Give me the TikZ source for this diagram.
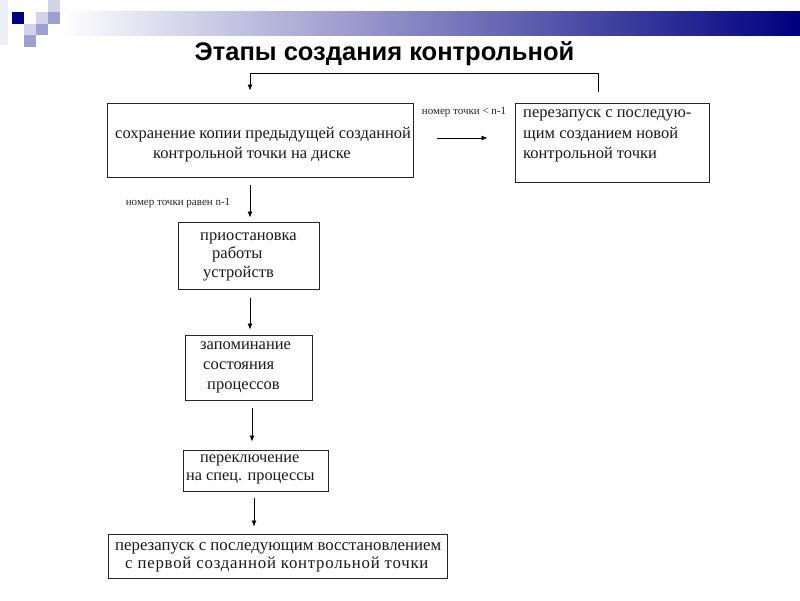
\documentclass[tikz,border=0pt]{standalone}
\usepackage{fontspec}
\setmainfont{Liberation Serif}
\newfontfamily\titlefont{Liberation Sans}
\usetikzlibrary{arrows.meta}
\definecolor{navyc}{HTML}{000080}
\definecolor{lightsq}{HTML}{D2D2EA}
\definecolor{medsq}{HTML}{A0A0D0}
\definecolor{faintsq}{HTML}{EEEEF6}
\tikzset{
  box/.style={draw=black!85, line width=0.9pt, rectangle, inner sep=0pt},
  boxtext/.style={inner sep=0pt, align=left, anchor=west, text=black!90,
    font=\fontsize{16.5}{18.5}\selectfont},
  smalltext/.style={inner sep=0pt, text=black!85, font=\fontsize{11}{13}\selectfont},
  arr/.style={-{Latex[length=6pt,width=5pt]}, line width=0.8pt},
  conn/.style={line width=0.8pt}
}
\begin{document}
\begin{tikzpicture}[x=1pt,y=-1pt]
\useasboundingbox (0,0) rectangle (800,600);
\fill[white] (0,0) rectangle (800,600);
% header decoration
\fill[faintsq] (0,0) rectangle (8,45);
\shade[left color=white, right color=navyc] (60,11) rectangle (800,35);
\fill[navyc] (12,12) rectangle (24,24);
\fill[lightsq] (36,12) rectangle (48,24);
\fill[lightsq] (48,0) rectangle (60,12);
\fill[medsq] (48,12) rectangle (60,24);
\fill[lightsq] (24,24) rectangle (36,35);
\fill[medsq] (36,24) rectangle (48,35);
\fill[medsq] (24,35) rectangle (36,47);
% title
\node[inner sep=0pt, anchor=base, font=\titlefont\bfseries\fontsize{25.5}{30}\selectfont] (title) at (384.5,60) {Этапы создания контрольной};
% boxes
\node[box, minimum width=306pt, minimum height=74pt] (b1) at (260,140) {};
\node[box, minimum width=194pt, minimum height=79pt] (b2) at (612,142.5) {};
\node[box, minimum width=141pt, minimum height=67pt] (b3) at (248.5,255.5) {};
\node[box, minimum width=127pt, minimum height=65pt] (b4) at (248.5,367.5) {};
\node[box, minimum width=145pt, minimum height=41pt] (b5) at (255.5,470.5) {};
\node[box, minimum width=339pt, minimum height=44pt] (b6) at (277.5,556) {};
% texts
\node[boxtext, font=\fontsize{16.5}{20}\selectfont] (t1) at (115,145) {сохранение копии предыдущей созданной\\\hspace*{38pt}контрольной точки на диске};
\node[boxtext, font=\fontsize{16.5}{20.5}\selectfont] (t2) at (523,136) {перезапуск с последую-\\щим созданием новой\\контрольной точки};
\node[boxtext] (t3) at (200,256.5) {приостановка\\\hspace*{12pt}работы\\\hspace*{3pt}устройств};
\node[boxtext, font=\fontsize{16.5}{20}\selectfont] (t4) at (200,367) {запоминание\\\hspace*{3pt}состояния\\\hspace*{7pt}процессов};
\node[boxtext, font=\fontsize{16.3}{18}\selectfont] (t5) at (186,469) {\hspace*{14pt}переключение\\на спец. процессы};
\node[boxtext, font=\fontsize{16.8}{18}\selectfont] (t6) at (115,557) {перезапуск с последующим восстановлением\\\hspace*{10pt}{\addfontfeature{LetterSpace=4.5}с первой созданной контрольной точки}};
% labels
\node[smalltext] (l1) at (464,112) {номер точки < n-1};
\node[smalltext] (l2) at (178,203) {номер точки равен n-1};
% connectors
\coordinate (c1) at (598,73);
\coordinate (c2) at (250,73);
\draw[arr, shorten <=11pt, shorten >=12pt] ([xshift=-14pt]b2.north) -- (c1) -- (c2) -- ([xshift=-10pt]b1.north);
\draw[arr, shorten <=24pt, shorten >=27pt] ([yshift=2pt]b1.east) -- ([yshift=2pt]b1.east -| b2.west);
\draw[arr, shorten <=8pt, shorten >=4pt] ([xshift=1.5pt]b3.north |- b1.south) -- ([xshift=1.5pt]b3.north);
\draw[arr, shorten <=9pt, shorten >=5pt] ([xshift=1.5pt]b3.south) -- ([xshift=1.5pt]b3.south |- b4.north);
\draw[arr, shorten <=8pt, shorten >=8pt] ([xshift=3.5pt]b4.south) -- ([xshift=3.5pt]b4.south |- b5.north);
\draw[arr, shorten <=7pt, shorten >=7pt] ([xshift=-1.5pt]b5.south) -- ([xshift=-1.5pt]b5.south |- b6.north);
\end{tikzpicture}
\end{document}
